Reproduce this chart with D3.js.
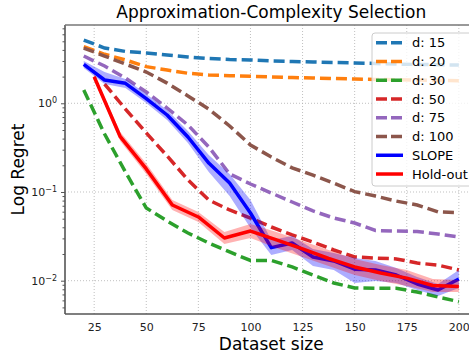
<!DOCTYPE html>
<meta charset="utf-8">
<style>
body { margin: 0; background: #fff; }
text { font-family: "DejaVu Sans", sans-serif; }
</style>
<script src="https://d3js.org/d3.v7.min.js"></script>
<div id="chart"></div>
<script>
// dataset sizes for the fixed-d curves and SLOPE
var sizes = [20, 30, 40, 50, 60, 70, 80, 90, 100, 110, 120, 130, 140, 150, 160, 170, 180, 190, 200];
// hold-out is evaluated on a coarser grid
var holdSizes = [25, 37.5, 50, 62.5, 75, 87.5, 100, 112.5, 125, 137.5, 150, 162.5, 175, 187.5, 200];

var d15 = [5.17, 4.20, 3.84, 3.69, 3.50, 3.33, 3.20, 3.12, 3.08, 3.00, 2.96, 2.92, 2.88, 2.85, 2.81, 2.77, 2.74, 2.72, 2.70];
var d20 = [4.35, 3.57, 3.08, 2.59, 2.37, 2.18, 2.085, 2.05, 2.02, 1.98, 1.95, 1.93, 1.90, 1.88, 1.86, 1.84, 1.83, 1.81, 1.80];
var d30 = [1.41, 0.451, 0.168, 0.066, 0.0471, 0.0345, 0.0266, 0.0211, 0.0169, 0.0169, 0.0143, 0.0116, 0.00942, 0.00828, 0.00821, 0.00821, 0.00746, 0.00655, 0.0058];
var d50 = [null, 1.65, 0.862, 0.463, 0.255, 0.137, 0.0813, 0.0627, 0.0509, 0.0403, 0.0328, 0.0273, 0.0222, 0.0185, 0.018, 0.0176, 0.0158, 0.015, 0.0132];
var d75 = [3.41, 2.63, 1.93, 1.34, 0.885, 0.569, 0.322, 0.160, 0.123, 0.0974, 0.0771, 0.0611, 0.0509, 0.0447, 0.0368, 0.0363, 0.0359, 0.0336, 0.0311];
var d100 = [4.20, 3.41, 2.77, 2.25, 1.69, 1.21, 0.862, 0.555, 0.339, 0.248, 0.187, 0.155, 0.126, 0.101, 0.090, 0.079, 0.0714, 0.0596, 0.0587];

var slope = [2.75, 1.83, 1.68, 1.13, 0.738, 0.417, 0.212, 0.126, 0.058, 0.0236, 0.0266, 0.0185, 0.0167, 0.0135, 0.0132, 0.0116, 0.00918, 0.00785, 0.01045];
var slopeHi = [3.00, 2.25, 1.88, 1.27, 0.840, 0.487, 0.261, 0.160, 0.0813, 0.0288, 0.0319, 0.0228, 0.0205, 0.0180, 0.0167, 0.0139, 0.0110, 0.00918, 0.0132];
var slopeLo = [2.50, 1.65, 1.49, 1.008, 0.648, 0.357, 0.168, 0.0901, 0.0393, 0.0195, 0.0222, 0.01465, 0.0132, 0.00942, 0.00993, 0.00942, 0.00785, 0.00673, 0.00828];

var hold = [1.995, 0.420, 0.182, 0.0714, 0.0523, 0.0303, 0.0363, 0.0288, 0.0228, 0.0178, 0.0143, 0.0122, 0.0107, 0.00883, 0.00861];
var holdHi = [2.14, 0.475, 0.2096, 0.0813, 0.0595, 0.0354, 0.0436, 0.0354, 0.0280, 0.0222, 0.0176, 0.0150, 0.0132, 0.01045, 0.0102];
var holdLo = [1.83, 0.376, 0.160, 0.0627, 0.0459, 0.0259, 0.0303, 0.0234, 0.0185, 0.0146, 0.0116, 0.00993, 0.00871, 0.00746, 0.00746];

var dLabels = ["d: 15", "d: 20", "d: 30", "d: 50", "d: 75", "d: 100"];
var dColors = ["#1f77b4", "#ff7f0e", "#2ca02c", "#d62728", "#9467bd", "#8c564b"];
var xTicks = [25, 50, 75, 100, 125, 150, 175, 200];
var yTicks = [0.01, 0.1, 1];

var margin = {top: 25, left: 65},
    width = 412.6,
    height = 289;

var svg = d3.select("#chart")
  .append("svg")
    .attr("width", 469)
    .attr("height", 354)
  .append("g")
    .attr("transform", "translate(" + margin.left + "," + margin.top + ")");

var x = d3.scaleLinear().domain([11, 209]).range([0, width]);
var y = d3.scaleLog().domain([0.004213, 7.633]).range([height, 0]);

svg.append("clipPath").attr("id", "clip")
  .append("rect").attr("width", width).attr("height", height);

// grid
svg.append("g").selectAll("line").data(xTicks).enter().append("line")
  .attr("x1", d => x(d)).attr("x2", d => x(d))
  .attr("y1", 0).attr("y2", height)
  .attr("stroke", "#b0b0b0").attr("stroke-width", 0.8).attr("stroke-dasharray", "1,2");
svg.append("g").selectAll("line").data(yTicks).enter().append("line")
  .attr("y1", d => y(d)).attr("y2", d => y(d))
  .attr("x1", 0).attr("x2", width)
  .attr("stroke", "#b0b0b0").attr("stroke-width", 0.8).attr("stroke-dasharray", "1,2");

var plot = svg.append("g").attr("clip-path", "url(#clip)");

var line = d3.line()
  .defined(d => d[1] != null)
  .x(d => x(d[0]))
  .y(d => y(d[1]));

var area = d3.area()
  .x(d => x(d[0]))
  .y0(d => y(d[1]))
  .y1(d => y(d[2]));

// fixed-d curves
[d15, d20, d30, d50, d75, d100].forEach(function(s, i) {
  plot.append("path")
    .datum(sizes.map((v, j) => [v, s[j]]))
    .attr("d", line)
    .attr("fill", "none")
    .attr("stroke", dColors[i])
    .attr("stroke-width", 3.5)
    .attr("stroke-dasharray", "11,5");
});

// SLOPE
plot.append("path")
  .datum(sizes.map((v, j) => [v, slopeLo[j], slopeHi[j]]))
  .attr("d", area)
  .attr("fill", "#0000ff").attr("fill-opacity", 0.32);
plot.append("path")
  .datum(sizes.map((v, j) => [v, slope[j]]))
  .attr("d", line)
  .attr("fill", "none").attr("stroke", "#0000ff").attr("stroke-width", 3.5)
  .attr("stroke-linejoin", "round");

// Hold-out
plot.append("path")
  .datum(holdSizes.map((v, j) => [v, holdLo[j], holdHi[j]]))
  .attr("d", area)
  .attr("fill", "#ff0000").attr("fill-opacity", 0.3);
plot.append("path")
  .datum(holdSizes.map((v, j) => [v, hold[j]]))
  .attr("d", line)
  .attr("fill", "none").attr("stroke", "#ff0000").attr("stroke-width", 3.5)
  .attr("stroke-linejoin", "round");

// axes
var xAxis = svg.append("g")
  .attr("transform", "translate(0," + height + ")")
  .call(d3.axisBottom(x).tickValues(xTicks).tickSize(0).tickPadding(9));
xAxis.selectAll("text").style("font-size", "11px").attr("fill", "#222");

var minor = y.ticks().filter(d => yTicks.indexOf(d) < 0);
svg.append("g")
  .call(d3.axisLeft(y).tickValues(minor).tickSize(2.5).tickFormat(""));
var yAxis = svg.append("g")
  .call(d3.axisLeft(y).tickValues(yTicks).tickSize(4).tickPadding(4));
yAxis.selectAll("text").each(function(d) {
  var t = d3.select(this).text(null).style("font-size", "11px").attr("fill", "#222");
  t.append("tspan").text("10");
  t.append("tspan").attr("dy", "-0.5em").style("font-size", "8px")
    .text(String(Math.round(Math.log10(d))).replace("-", "\u2212"));
});
svg.selectAll(".domain").remove();
svg.selectAll(".tick line").attr("stroke", "#555");

// spines
svg.append("line").attr("x1", 0).attr("x2", 0).attr("y1", 0).attr("y2", height)
  .attr("stroke", "#555").attr("stroke-width", 1.6);
svg.append("line").attr("x1", 0).attr("x2", width).attr("y1", height).attr("y2", height)
  .attr("stroke", "#555").attr("stroke-width", 1.6);
svg.append("line").attr("x1", 0).attr("x2", width).attr("y1", 0).attr("y2", 0)
  .attr("stroke", "#777").attr("stroke-width", 1.6);

// titles
svg.append("text")
  .attr("x", width / 2).attr("y", -7)
  .attr("text-anchor", "middle").style("font-size", "17px")
  .text("Approximation-Complexity Selection");
svg.append("text")
  .attr("x", width / 2).attr("y", height + 36)
  .attr("text-anchor", "middle").style("font-size", "17px")
  .text("Dataset size");
svg.append("text")
  .attr("transform", "rotate(-90)")
  .attr("x", -height / 2).attr("y", -41)
  .attr("text-anchor", "middle").style("font-size", "17px")
  .text("Log Regret");

// legend
var legend = svg.append("g").attr("transform", "translate(307,8)");
legend.append("rect")
  .attr("width", 110).attr("height", 153).attr("rx", 3)
  .attr("fill", "#fff").attr("fill-opacity", 0.8)
  .attr("stroke", "#ccc");
var entries = dLabels.map((l, i) => ({label: l, color: dColors[i], dash: "11,4"}))
  .concat([{label: "SLOPE", color: "#0000ff", dash: null},
           {label: "Hold-out", color: "#ff0000", dash: null}]);
var item = legend.selectAll(".item").data(entries).enter().append("g")
  .attr("transform", (d, i) => "translate(0," + (9.7 + i * 18.76) + ")");
item.append("line")
  .attr("x1", 4).attr("x2", 31)
  .attr("stroke", d => d.color).attr("stroke-width", 3.5)
  .attr("stroke-dasharray", d => d.dash);
item.append("text")
  .attr("x", 40).attr("dy", "0.35em")
  .style("font-size", "13px")
  .text(d => d.label);
</script>
